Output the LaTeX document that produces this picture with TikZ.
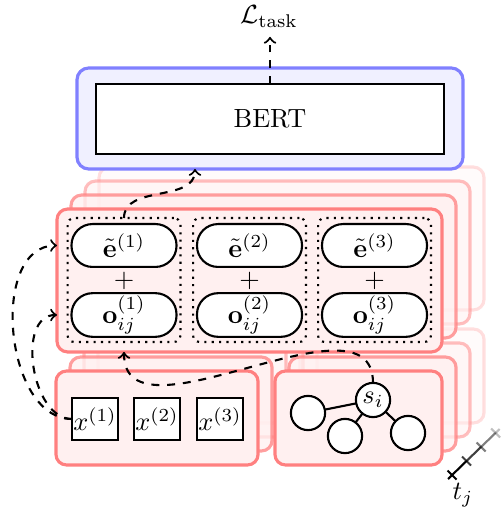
\documentclass[tikz,border=0pt]{standalone}
\usepackage{amsmath}
\usetikzlibrary{calc}

\begin{document}
\begin{tikzpicture}[x=0.38pt,y=0.38pt,every node/.style={outer sep=0pt}]
	\tikzstyle{slab}=[draw=red!50,fill=red!6,line width=1.2pt,rounded corners=4pt]
	\tikzstyle{bertslab}=[draw=blue!50,fill=blue!6,line width=1.2pt,rounded corners=4.5pt]
	\tikzstyle{pill}=[draw,thick,fill=white,rounded corners=8pt,minimum width=39.9pt,minimum height=16.3pt,inner sep=1pt]
	\tikzstyle{grp}=[draw,thick,dotted,rounded corners=2.5pt,minimum width=42.9pt,minimum height=47.1pt]
	\tikzstyle{token}=[draw,thick,fill=white,minimum width=17.5pt,minimum height=16pt,inner sep=0pt]
	\tikzstyle{vertex}=[draw,thick,fill=white,circle,minimum size=13pt,inner sep=0pt]
	\tikzstyle{dflow}=[->,thick,dashed]

	\useasboundingbox (0,0) rectangle (501,-513);

	% Eingabe: Text und Graph, mit Kopien fuer t_j
	\foreach \k/\op in {3/0.25,2/0.5,1/0.75}{
		\node (txt\k) [slab,opacity=\op,minimum width=76.8pt,minimum height=35.7pt] at ($(157,-418)+(14*\k,14*\k)$) {};
		\node (grph\k) [slab,opacity=\op,minimum width=63.5pt,minimum height=35.7pt] at ($(358.5,-418)+(14*\k,14*\k)$) {};
	}
	\node (txt) [slab,minimum width=76.8pt,minimum height=35.7pt] at (157,-418) {};
	\node (grph) [slab,minimum width=63.5pt,minimum height=35.7pt] at (358.5,-418) {};

	\foreach \i/\x in {1/95,2/157,3/220}
		\node (x\i) [token] at (\x,-419) {$x^{(\i)}$};

	\node (s) [vertex] at (373,-400) {$s_i$};
	\node (v1) [vertex] at (308,-413) {};
	\node (v2) [vertex] at (345,-436) {};
	\node (v3) [vertex] at (408,-433) {};
	\draw [thick] (s) -- (v1) (s) -- (v2) (s) -- (v3);

	% Einbettungen
	\foreach \k/\op in {3/0.25,2/0.5,1/0.75}
		\node (emb\k) [slab,opacity=\op,minimum width=146.3pt,minimum height=54.3pt] at ($(249.5,-280.5)+(14*\k,14*\k)$) {};
	\node (emb) [slab,minimum width=146.3pt,minimum height=54.3pt] at (249.5,-280.5) {};

	\foreach \i/\x in {1/124,2/249.5,3/374.5}{
		\node (g\i) [grp] at (\x,-280) {};
		\node (e\i) [pill] at (\x,-245.5) {$\tilde{\mathbf{e}}^{(\i)}$};
		\node (p\i) [inner sep=0pt] at (\x,-281) {$+$};
		\node (o\i) [pill] at (\x,-315) {$\mathbf{o}_{ij}^{(\i)}$};
	}

	% BERT
	\node (bertbox) [bertslab,minimum width=146.7pt,minimum height=38.4pt] at (270,-118.5) {};
	\node (bert) [draw,thick,fill=white,minimum width=132.2pt,minimum height=26.6pt] at (270,-119) {BERT};
	\node (loss) at (269,-17) {$\mathcal{L}_{\text{task}}$};

	\coordinate (bin) at (195,-169);
	\draw [dflow] (bert.north) -- (bert.north |- loss.south);
	\draw [dflow] (g1.north) to[out=90,in=-90] (bin);
	\draw [dflow] (s.north) to[out=90,in=-90] (o1 |- emb.south);
	\draw [dflow] (x1.west) to[out=180,in=180] (emb.west |- e1);
	\draw [dflow] (x1.west) to[out=180,in=180] (emb.west |- o1);

	% Zeitachse
	\foreach \k/\op in {0/1,1/0.75,2/0.5,3/0.25}{
		\coordinate (t\k) at ($(452,-475)+(14.5*\k,14*\k)$);
		\draw [thick,opacity=\op] ($(t\k)+(-4.5,4.5)$) -- ($(t\k)+(4.5,-4.5)$);
	}
	\draw [thick] ($(t0)+(-4,-4)$) -- (t1);
	\foreach \k/\n/\op in {1/2/0.75,2/3/0.5}
		\draw [thick,opacity=\op] (t\k) -- (t\n);
	\draw [thick,opacity=0.25] (t3) -- ($(t3)+(4,4)$);
	\node (tj) at (463,-495) {$t_j$};
\end{tikzpicture}
\end{document}
